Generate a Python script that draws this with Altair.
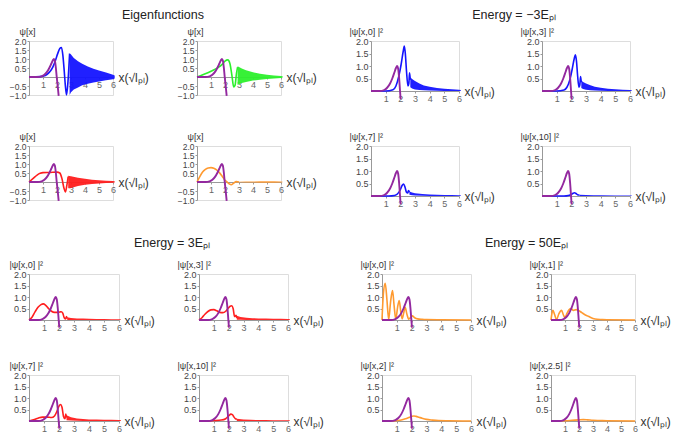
import altair as alt
import pandas as pd

FONT = "Liberation Sans"
BLUE = "#1414ff"
GREEN = "#2cf02c"
RED = "#ff1e1e"
ORANGE = "#ff9a30"
PURPLE = "#93289f"

XTITLE = "x(√lₚₗ)"

GROUP_TITLES = ["Eigenfunctions", "Energy = −3Eₚₗ", "Energy = 3Eₚₗ", "Energy = 50Eₚₗ"]
Y_TITLES_A = ["ψ[x]", "ψ[x]", "ψ[x]", "ψ[x]"]
Y_TITLES_B = ["|ψ[x,0] |²", "|ψ[x,3] |²", "|ψ[x,7] |²", "|ψ[x,10] |²"]
Y_TITLES_C = ["|ψ[x,0] |²", "|ψ[x,3] |²", "|ψ[x,7] |²", "|ψ[x,10] |²"]
Y_TITLES_D = ["|ψ[x,0] |²", "|ψ[x,1] |²", "|ψ[x,2] |²", "|ψ[x,2.5] |²"]

# purple reference curve (common to all panels)
PURPLE_X = [0, 0.6, 0.9, 1.1, 1.3, 1.45, 1.6, 1.7, 1.78, 1.85, 1.92, 1.98]
PURPLE_Y = [0, 0, 0.04, 0.13, 0.3, 0.5, 0.75, 0.92, 1.0, 0.9, 0.5, 0.0]
PURPLE_TAIL_EIGEN_X = [2.05, 2.12]
PURPLE_TAIL_EIGEN_Y = [-0.5, -1.05]
PURPLE_TAIL_PROB_X = [2.02]
PURPLE_TAIL_PROB_Y = [-0.33]

# ---- Eigenfunctions ----
A1_X = [0, 0.5, 1.0, 1.3, 1.5, 1.7, 1.9, 2.05, 2.2, 2.32, 2.42, 2.52, 2.6, 2.68, 2.78, 2.9]
A1_Y = [0, 0.01, 0.05, 0.15, 0.3, 0.55, 0.95, 1.3, 1.58, 1.64, 1.2, 0.3, -0.5, -1.0, -0.3, 1.3]
A1_BX = [2.9, 3.0, 3.2, 3.5, 3.8, 4.2, 4.6, 5.0, 5.5, 6.0, 6.12]
A1_BLO = [-1.0, -0.85, -0.7, -0.58, -0.46, -0.38, -0.3, -0.25, -0.18, -0.12, -0.08]
A1_BHI = [1.3, 1.25, 1.05, 0.88, 0.73, 0.58, 0.46, 0.36, 0.25, 0.13, 0.08]

A2_X = [0, 0.5, 1.0, 1.5, 1.8, 2.0, 2.2, 2.35, 2.5, 2.62, 2.72, 2.82, 2.9]
A2_Y = [0, 0.15, 0.32, 0.52, 0.7, 0.88, 0.95, 0.75, 0.05, -0.55, -0.45, 0.2, 0.55]
A2_BX = [2.9, 3.0, 3.2, 3.5, 4.0, 4.5, 5.0, 5.5, 6.0, 6.12]
A2_BLO = [-0.45, -0.4, -0.34, -0.28, -0.2, -0.15, -0.11, -0.08, -0.05, -0.03]
A2_BHI = [0.6, 0.55, 0.47, 0.38, 0.26, 0.18, 0.12, 0.09, 0.06, 0.04]

A3_X = [0, 0.3, 0.6, 0.8, 1.0, 1.5, 2.0, 2.2, 2.35, 2.5, 2.6, 2.7, 2.8]
A3_Y = [0, 0.2, 0.4, 0.48, 0.52, 0.53, 0.55, 0.5, 0.2, -0.35, -0.55, -0.2, 0.3]
A3_BX = [2.8, 3.0, 3.5, 4.0, 4.5, 5.0, 5.5, 6.0, 6.12]
A3_BLO = [-0.35, -0.33, -0.22, -0.15, -0.11, -0.08, -0.06, -0.04, -0.03]
A3_BHI = [0.35, 0.32, 0.24, 0.18, 0.13, 0.1, 0.07, 0.05, 0.04]

A4_X = [0, 0.2, 0.4, 0.6, 0.8, 1.0, 1.2, 1.4, 1.6, 1.8, 2.0, 2.15, 2.3, 2.45, 2.6, 2.8, 3.0]
A4_Y = [0, 0.3, 0.55, 0.7, 0.78, 0.8, 0.77, 0.68, 0.52, 0.32, 0.1, 0.0, -0.1, -0.15, -0.08, 0.02, 0.0]
A4_BX = [3.0, 3.5, 4.0, 4.5, 5.0, 5.5, 6.0, 6.12]
A4_BLO = [-0.02, -0.03, -0.03, -0.04, -0.04, -0.04, -0.03, -0.02]
A4_BHI = [0.02, 0.03, 0.03, 0.04, 0.04, 0.04, 0.03, 0.02]

# ---- Energy = -3 E_pl (blue) ----
B1_X = [0, 1.0, 1.5, 1.7, 1.9, 2.05, 2.2, 2.27, 2.34, 2.42, 2.52, 2.58, 2.63, 2.68]
B1_Y = [0, 0, 0.05, 0.2, 0.6, 1.05, 1.6, 1.8, 1.5, 0.8, 0.2, 0.3, 0.73, 0.45]
B1_BX = [2.68, 2.8, 3.0, 3.3, 3.6, 4.0, 4.5, 5.0, 5.5, 6.0, 6.12]
B1_BLO = [0.15, 0.1, 0.06, 0.04, 0.03, 0.02, 0.01, 0.0, 0.0, 0.0, 0.0]
B1_BHI = [0.55, 0.48, 0.4, 0.3, 0.22, 0.17, 0.12, 0.09, 0.07, 0.05, 0.04]

B2_X = [0, 1.0, 1.5, 1.7, 1.9, 2.05, 2.2, 2.28, 2.35, 2.43, 2.52, 2.58, 2.63, 2.68]
B2_Y = [0, 0, 0.04, 0.15, 0.45, 0.85, 1.3, 1.45, 1.2, 0.6, 0.15, 0.25, 0.58, 0.35]
B2_BX = [2.68, 2.8, 3.0, 3.3, 3.6, 4.0, 4.5, 5.0, 5.5, 6.0, 6.12]
B2_BLO = [0.12, 0.08, 0.05, 0.03, 0.02, 0.01, 0.0, 0.0, 0.0, 0.0, 0.0]
B2_BHI = [0.42, 0.36, 0.3, 0.23, 0.17, 0.13, 0.09, 0.07, 0.05, 0.04, 0.03]

B3_X = [0, 1.2, 1.6, 1.8, 2.0, 2.12, 2.22, 2.32, 2.42, 2.5, 2.56, 2.62]
B3_Y = [0, 0, 0.02, 0.08, 0.25, 0.42, 0.48, 0.35, 0.15, 0.12, 0.22, 0.15]
B3_BX = [2.62, 2.8, 3.0, 3.5, 4.0, 4.5, 5.0, 5.5, 6.0, 6.12]
B3_BLO = [0.05, 0.03, 0.02, 0.01, 0.0, 0.0, 0.0, 0.0, 0.0, 0.0]
B3_BHI = [0.18, 0.14, 0.11, 0.08, 0.06, 0.05, 0.04, 0.04, 0.03, 0.03]

B4_X = [0, 1.5, 1.8, 2.0, 2.12, 2.22, 2.32, 2.42, 2.55]
B4_Y = [0, 0, 0.02, 0.06, 0.11, 0.13, 0.1, 0.05, 0.04]
B4_BX = [2.55, 3.0, 3.5, 4.0, 5.0, 6.0, 6.12]
B4_BLO = [0.0, 0.0, 0.0, 0.0, 0.0, 0.0, 0.0]
B4_BHI = [0.05, 0.04, 0.03, 0.03, 0.02, 0.02, 0.02]

# ---- Energy = 3 E_pl (red) ----
C1_X = [0, 0.2, 0.4, 0.6, 0.8, 0.95, 1.1, 1.3, 1.5, 1.7, 1.9, 2.05, 2.15, 2.25, 2.35, 2.45, 2.5, 2.55]
C1_Y = [0, 0.12, 0.35, 0.55, 0.67, 0.7, 0.65, 0.5, 0.38, 0.33, 0.33, 0.35, 0.36, 0.3, 0.1, 0.05, 0.15, 0.06]
C1_BX = [2.55, 2.8, 3.2, 3.6, 4.0, 4.5, 5.0, 5.5, 6.0, 6.12]
C1_BLO = [0.0, 0.0, 0.0, 0.0, 0.0, 0.0, 0.0, 0.0, 0.0, 0.0]
C1_BHI = [0.12, 0.09, 0.07, 0.06, 0.05, 0.04, 0.04, 0.03, 0.03, 0.03]

C2_X = [0, 0.2, 0.4, 0.6, 0.8, 1.0, 1.2, 1.4, 1.6, 1.8, 1.95, 2.1, 2.2, 2.3, 2.4, 2.5, 2.55]
C2_Y = [0, 0.1, 0.25, 0.37, 0.44, 0.45, 0.4, 0.33, 0.32, 0.38, 0.5, 0.6, 0.62, 0.5, 0.15, 0.2, 0.08]
C2_BX = [2.55, 2.8, 3.2, 3.6, 4.0, 4.5, 5.0, 5.5, 6.0, 6.12]
C2_BLO = [0.01, 0.01, 0.0, 0.0, 0.0, 0.0, 0.0, 0.0, 0.0, 0.0]
C2_BHI = [0.18, 0.13, 0.1, 0.08, 0.07, 0.06, 0.05, 0.05, 0.04, 0.04]

C3_X = [0, 0.3, 0.6, 0.9, 1.2, 1.5, 1.7, 1.85, 2.0, 2.1, 2.2, 2.3, 2.4, 2.45, 2.5]
C3_Y = [0, 0.05, 0.12, 0.17, 0.17, 0.15, 0.22, 0.4, 0.65, 0.72, 0.6, 0.2, 0.1, 0.3, 0.15]
C3_BX = [2.5, 2.8, 3.2, 3.6, 4.0, 4.5, 5.0, 5.5, 6.0, 6.12]
C3_BLO = [0.03, 0.02, 0.01, 0.0, 0.0, 0.0, 0.0, 0.0, 0.0, 0.0]
C3_BHI = [0.25, 0.16, 0.11, 0.09, 0.07, 0.06, 0.05, 0.05, 0.04, 0.04]

C4_X = [0, 1.0, 1.5, 1.8, 2.0, 2.15, 2.25, 2.35, 2.45, 2.55]
C4_Y = [0, 0.02, 0.04, 0.1, 0.22, 0.3, 0.28, 0.18, 0.1, 0.07]
C4_BX = [2.55, 3.0, 3.5, 4.0, 4.5, 5.0, 5.5, 6.0, 6.12]
C4_BLO = [0.0, 0.0, 0.0, 0.0, 0.0, 0.0, 0.0, 0.0, 0.0]
C4_BHI = [0.1, 0.07, 0.05, 0.04, 0.04, 0.03, 0.03, 0.03, 0.03]

# ---- Energy = 50 E_pl (orange) ----
D1_X = [0, 0.1, 0.22, 0.33, 0.45, 0.58, 0.71, 0.82, 0.93, 1.05, 1.16, 1.26, 1.36, 1.46, 1.56,
        1.68, 1.8, 1.92, 2.04, 2.2, 2.4, 2.7, 3.0, 4.0, 6.0]
D1_Y = [0, 1.2, 1.6, 0.9, 0.02, 0.8, 1.28, 0.6, 0.03, 0.55, 0.85, 0.4, 0.05, 0.3, 0.55,
        0.25, 0.04, 0.1, 0.18, 0.1, 0.05, 0.03, 0.02, 0.01, 0.0]

D2_X = [0, 0.07, 0.14, 0.25, 0.4, 0.55, 0.75, 0.9, 1.0, 1.15, 1.3, 1.43, 1.6, 1.8, 2.0,
        2.2, 2.4, 2.6, 2.8, 3.0, 3.3, 3.6, 4.0, 6.0]
D2_Y = [0, 0.3, 0.42, 0.25, 0.02, 0.25, 0.42, 0.2, 0.1, 0.3, 0.45, 0.5, 0.42, 0.45, 0.4,
        0.32, 0.24, 0.18, 0.12, 0.07, 0.03, 0.02, 0.01, 0.0]

D3_X = [0, 0.5, 1.0, 1.3, 1.6, 1.8, 2.0, 2.15, 2.3, 2.5, 2.7, 3.0, 3.4, 3.8, 4.5, 6.0]
D3_Y = [0, 0.0, 0.02, 0.04, 0.1, 0.15, 0.2, 0.22, 0.2, 0.16, 0.12, 0.07, 0.04, 0.02, 0.01, 0.0]

D4_X = [0, 1.0, 1.5, 2.0, 2.3, 2.6, 3.0, 3.5, 4.0, 6.0]
D4_Y = [0, 0.01, 0.03, 0.05, 0.06, 0.05, 0.03, 0.02, 0.01, 0.0]


def panel(lx, ly, color, ytitle, eigen, w, h, bx=None, blo=None, bhi=None,
          title=None, ytx=-22):
    ydom = [-1, 2] if eigen else [0, 2]
    yvals = [-1, -0.5, 0.5, 1, 1.5, 2] if eigen else [0.5, 1, 1.5, 2]
    xs = alt.Scale(domain=[0, 6], nice=False, zero=False)
    ys = alt.Scale(domain=ydom, nice=False, zero=False)
    xaxis = alt.Axis(values=[1, 2, 3, 4, 5, 6], format="d", title=XTITLE,
                     titleAngle=0, titleX=w + 5, titleY=0, titleAlign="left",
                     titleBaseline="middle", titleFontSize=12, titleFontWeight="normal",
                     titleColor="#333", titleFont=FONT, labelFont=FONT, labelFontSize=9,
                     labelColor="#666", labelFlush=False, labelPadding=1,
                     domainColor="#999", tickColor="#999", tickSize=2, grid=False,
                     offset=(-h / 3.0) if eigen else 0)
    yaxis = alt.Axis(values=yvals, format=".1f", title=ytitle, titleAngle=0,
                     titleX=ytx, titleY=-5, titleAlign="left", titleBaseline="bottom",
                     titleFontSize=9, titleFontWeight="normal", titleColor="#333",
                     titleFont=FONT, labelFont=FONT, labelFontSize=8.5 if eigen else 9,
                     labelColor="#444", labelFlush=False, labelOverlap=False,
                     labelPadding=1, domainColor="#999", tickColor="#999", tickSize=2,
                     grid=False)
    enc_x = alt.X("x:Q", scale=xs, axis=xaxis)
    enc_y = alt.Y("y:Q", scale=ys, axis=yaxis)
    layers = []
    if bx is not None:
        bdf = pd.DataFrame({"x": bx, "y": blo, "y2": bhi})
        layers.append(alt.Chart(bdf).mark_area(color=color, opacity=0.95).encode(
            x=enc_x, y=enc_y, y2=alt.Y2("y2:Q")))
    ldf = pd.DataFrame({"x": lx, "y": ly})
    layers.append(alt.Chart(ldf).mark_line(color=color, strokeWidth=1.6,
                                           interpolate="monotone").encode(x=enc_x, y=enc_y))
    if eigen:
        px = PURPLE_X + PURPLE_TAIL_EIGEN_X
        py = PURPLE_Y + PURPLE_TAIL_EIGEN_Y
    else:
        px = PURPLE_X + PURPLE_TAIL_PROB_X
        py = PURPLE_Y + PURPLE_TAIL_PROB_Y
    pdf = pd.DataFrame({"x": px, "y": py})
    layers.append(alt.Chart(pdf).mark_line(color=PURPLE, strokeWidth=1.9,
                                           interpolate="monotone").encode(x=enc_x, y=enc_y))
    ch = alt.layer(*layers).properties(width=w, height=h)
    if title is not None:
        ch = ch.properties(title=title)
    return ch


def gtitle(text, dx, offset):
    return alt.TitleParams(text=text, anchor="middle", dx=dx, offset=offset, fontSize=12.5,
                           fontWeight="normal", font=FONT, color="#222")


EW, EH = 84, 54
PW, PH = 88, 50
BH = 46

A1 = panel(A1_X, A1_Y, BLUE, Y_TITLES_A[0], True, EW, EH, A1_BX, A1_BLO, A1_BHI,
           title=gtitle(GROUP_TITLES[0], 92, 6), ytx=-10)
A2 = panel(A2_X, A2_Y, GREEN, Y_TITLES_A[1], True, EW, EH, A2_BX, A2_BLO, A2_BHI, ytx=-10)
A3 = panel(A3_X, A3_Y, RED, Y_TITLES_A[2], True, EW, EH, A3_BX, A3_BLO, A3_BHI, ytx=-10)
A4 = panel(A4_X, A4_Y, ORANGE, Y_TITLES_A[3], True, EW, EH, A4_BX, A4_BLO, A4_BHI, ytx=-10)

B1 = panel(B1_X, B1_Y, BLUE, Y_TITLES_B[0], False, PW, PH, B1_BX, B1_BLO, B1_BHI,
           title=gtitle(GROUP_TITLES[1], 99, 6))
B2 = panel(B2_X, B2_Y, BLUE, Y_TITLES_B[1], False, PW, PH, B2_BX, B2_BLO, B2_BHI)
B3 = panel(B3_X, B3_Y, BLUE, Y_TITLES_B[2], False, PW, PH, B3_BX, B3_BLO, B3_BHI)
B4 = panel(B4_X, B4_Y, BLUE, Y_TITLES_B[3], False, PW, PH, B4_BX, B4_BLO, B4_BHI)

C1 = panel(C1_X, C1_Y, RED, Y_TITLES_C[0], False, 90, BH, C1_BX, C1_BLO, C1_BHI,
           title=gtitle(GROUP_TITLES[2], 98, 11), ytx=-20)
C2 = panel(C2_X, C2_Y, RED, Y_TITLES_C[1], False, 89, BH, C2_BX, C2_BLO, C2_BHI)
C3 = panel(C3_X, C3_Y, RED, Y_TITLES_C[2], False, 90, BH, C3_BX, C3_BLO, C3_BHI, ytx=-20)
C4 = panel(C4_X, C4_Y, RED, Y_TITLES_C[3], False, 89, BH, C4_BX, C4_BLO, C4_BHI)

D1 = panel(D1_X, D1_Y, ORANGE, Y_TITLES_D[0], False, 89, BH,
           title=gtitle(GROUP_TITLES[3], 100, 11))
D2 = panel(D2_X, D2_Y, ORANGE, Y_TITLES_D[1], False, 84, BH)
D3 = panel(D3_X, D3_Y, ORANGE, Y_TITLES_D[2], False, 89, BH)
D4 = panel(D4_X, D4_Y, ORANGE, Y_TITLES_D[3], False, 84, BH)


def pair(a, b, sp):
    return alt.hconcat(a, b, spacing=sp, bounds="flush")


row1 = alt.hconcat(pair(A1, A2, 84), pair(B1, B2, 83), spacing=31)
row2 = alt.hconcat(pair(A3, A4, 84), pair(B3, B4, 83), spacing=31)
row3 = alt.hconcat(pair(C1, C2, 80), pair(D1, D2, 80), spacing=35)
row4 = alt.hconcat(pair(C3, C4, 80), pair(D3, D4, 80), spacing=35)

chart = alt.vconcat(row1, row2, row3, row4, spacing=27).properties(
    padding=0
).configure_view(stroke=None).configure(font=FONT, background="white")

chart.save("out.html", embed_options={"renderer": "svg", "actions": False})
